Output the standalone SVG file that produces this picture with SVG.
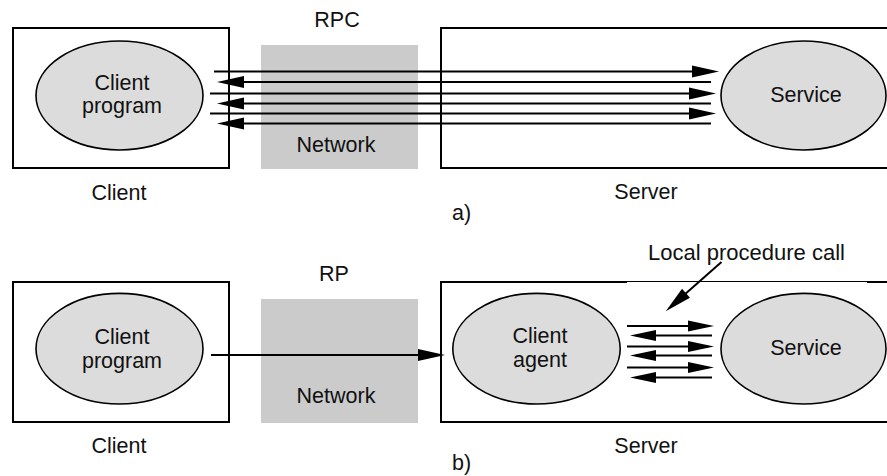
<svg xmlns="http://www.w3.org/2000/svg" width="887" height="476" viewBox="0 0 887 476">
  <style>
    .box { fill: #ffffff; stroke: #000000; stroke-width: 2; }
    .net { fill: #cbcbcb; stroke: none; }
    .proc { fill: #dcdcdc; stroke: #000000; stroke-width: 1.6; }
    .txt { font-family: "Liberation Sans", Arial, Helvetica, sans-serif; font-size: 21.5px; fill: #111111; }
    .mid { text-anchor: middle; }
    .wire { stroke: #000000; stroke-width: 2; fill: none; }
  </style>
  <defs>
    <marker id="head" markerUnits="userSpaceOnUse" markerWidth="28" markerHeight="13" refX="20" refY="6" orient="auto" overflow="visible">
      <path d="M0,0 L27,6 L0,12 Z" fill="#000000"/>
    </marker>
    <marker id="headSmall" markerUnits="userSpaceOnUse" markerWidth="27" markerHeight="12" refX="20" refY="5.5" orient="auto" overflow="visible">
      <path d="M0,0 L26,5.5 L0,11 Z" fill="#000000"/>
    </marker>
  </defs>

  <rect width="887" height="476" fill="#ffffff"/>

  <!-- (a) remote procedure call -->
  <text class="txt mid" x="337" y="27">RPC</text>

  <g id="a-client">
    <rect class="box" x="13" y="28" width="216" height="140"/>
    <ellipse class="proc" cx="119.5" cy="95.5" rx="83.5" ry="54.5"/>
    <text class="txt mid" x="122" y="90">Client</text>
    <text class="txt mid" x="122" y="113">program</text>
    <text class="txt mid" x="119" y="200">Client</text>
  </g>

  <g id="a-network">
    <rect class="net" x="261" y="45" width="157" height="124"/>
    <text class="txt mid" x="336" y="152">Network</text>
  </g>

  <g id="a-server">
    <rect class="box" x="441" y="28" width="460" height="140"/>
    <ellipse class="proc" cx="803.5" cy="95.5" rx="82.5" ry="54.5"/>
    <text class="txt mid" x="806" y="102">Service</text>
    <text class="txt mid" x="646" y="199">Server</text>
  </g>

  <text class="txt" x="452" y="220">a)</text>

  <g id="a-connectors">
    <line class="wire" x1="214" y1="71.5" x2="712" y2="71.5" marker-end="url(#head)"/>
    <line class="wire" x1="711" y1="82" x2="224" y2="82" marker-end="url(#head)"/>
    <line class="wire" x1="210" y1="93.5" x2="709" y2="93.5" marker-end="url(#head)"/>
    <line class="wire" x1="711" y1="103.5" x2="224" y2="103.5" marker-end="url(#head)"/>
    <line class="wire" x1="210" y1="113.5" x2="709" y2="113.5" marker-end="url(#head)"/>
    <line class="wire" x1="711" y1="123.5" x2="224" y2="123.5" marker-end="url(#head)"/>
  </g>

  <!-- (b) remote programming -->
  <text class="txt mid" x="334" y="281">RP</text>

  <g id="b-client">
    <rect class="box" x="13" y="282" width="216" height="140"/>
    <ellipse class="proc" cx="119.5" cy="348.7" rx="83.5" ry="55.3"/>
    <text class="txt mid" x="122" y="344">Client</text>
    <text class="txt mid" x="122" y="368">program</text>
    <text class="txt mid" x="119" y="453">Client</text>
  </g>

  <g id="b-network">
    <rect class="net" x="261" y="299" width="157" height="124"/>
    <text class="txt mid" x="336" y="403">Network</text>
  </g>

  <g id="b-server">
    <rect fill="#ffffff" x="441" y="282" width="460" height="140"/>
    <path class="wire" d="M627,282 H441 V422 H900"/>
    <line stroke="#000000" stroke-width="1.2" x1="627" y1="281.5" x2="867" y2="281.5"/>
    <line class="wire" x1="867" y1="282" x2="900" y2="282"/>
    <text class="txt mid" x="646" y="453">Server</text>
  </g>

  <g id="b-agent">
    <ellipse class="proc" cx="536.5" cy="348.7" rx="83.7" ry="55.3"/>
    <text class="txt mid" x="540" y="343">Client</text>
    <text class="txt mid" x="540" y="366.5">agent</text>
  </g>

  <g id="b-service">
    <ellipse class="proc" cx="803.5" cy="348.7" rx="82.5" ry="55.3"/>
    <text class="txt mid" x="806" y="355">Service</text>
  </g>

  <text class="txt" x="452" y="470">b)</text>

  <g id="b-label">
    <text class="txt mid" x="746.5" y="260" style="font-size:22px">Local procedure call</text>
  </g>

  <g id="b-connectors">
    <line class="wire" x1="211" y1="355" x2="438" y2="355" marker-end="url(#head)"/>
    <line class="wire" x1="721.5" y1="262" x2="671" y2="306.5" marker-end="url(#head)"/>
    <line class="wire" x1="627" y1="326" x2="708" y2="326" marker-end="url(#headSmall)"/>
    <line class="wire" x1="712" y1="335.5" x2="636" y2="335.5" marker-end="url(#headSmall)"/>
    <line class="wire" x1="627" y1="346.5" x2="708" y2="346.5" marker-end="url(#headSmall)"/>
    <line class="wire" x1="712" y1="355.5" x2="636" y2="355.5" marker-end="url(#headSmall)"/>
    <line class="wire" x1="627" y1="367.5" x2="708" y2="367.5" marker-end="url(#headSmall)"/>
    <line class="wire" x1="712" y1="377.5" x2="636" y2="377.5" marker-end="url(#headSmall)"/>
  </g>
</svg>
